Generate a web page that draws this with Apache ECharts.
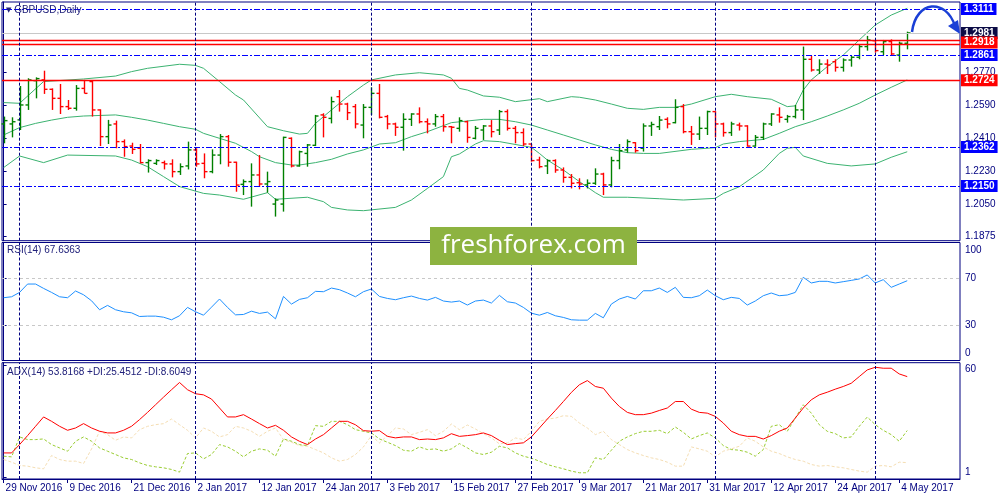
<!DOCTYPE html>
<html>
<head>
<meta charset="utf-8">
<title>GBPUSD,Daily</title>
<script src="https://cdn.jsdelivr.net/npm/echarts@6.0.0/dist/echarts.min.js"></script>
<style>
  html, body { margin: 0; padding: 0; background: #fff; }
  #main { width: 1000px; height: 500px; }
</style>
</head>
<body>
<div id="main"></div>
<script type="text/javascript">
// ---- price bars (daily, 29 Nov 2016 .. 5 May 2017), index = bar number
var open = [
  1.2487,1.2487,1.2509,1.2590,1.2722,1.2726,1.2675,1.2626,1.2581,1.2572,
  1.2680,1.2717,1.2563,1.2418,1.2487,1.2391,1.2367,1.2355,1.2277,1.2273,
  1.2277,1.2270,1.2228,1.2259,1.2346,1.2273,1.2228,1.2318,1.2418,1.2279,
  1.2159,1.2174,1.2210,1.2161,1.2052,1.2052,1.2409,1.2259,1.2327,1.2371,
  1.2536,1.2517,1.2635,1.2595,1.2581,1.2481,1.2577,1.2653,1.2527,1.2487,
  1.2469,1.2512,1.2541,1.2499,1.2487,1.2527,1.2472,1.2463,1.2499,1.2409,
  1.2454,1.2476,1.2454,1.2554,1.2463,1.2440,1.2378,1.2291,1.2259,1.2288,
  1.2237,1.2197,1.2168,1.2156,1.2165,1.2215,1.2156,1.2288,1.2346,1.2385,
  1.2355,1.2476,1.2472,1.2512,1.2494,1.2581,1.2445,1.2432,1.2463,1.2554,
  1.2487,1.2440,1.2481,1.2476,1.2367,1.2414,1.2487,1.2536,1.2512,1.2527,
  1.2563,1.2838,1.2780,1.2812,1.2825,1.2794,1.2834,1.2849,1.2907,1.2939,
  1.2879,1.2934,1.2861,1.2925
];
var high = [
  1.2527,1.2523,1.2693,1.2735,1.2740,1.2776,1.2680,1.2704,1.2617,1.2698,
  1.2726,1.2722,1.2566,1.2509,1.2505,1.2403,1.2385,1.2378,1.2295,1.2295,
  1.2288,1.2295,1.2273,1.2391,1.2355,1.2327,1.2349,1.2432,1.2427,1.2282,
  1.2186,1.2273,1.2318,1.2228,1.2083,1.2418,1.2414,1.2342,1.2378,1.2536,
  1.2545,1.2635,1.2671,1.2602,1.2595,1.2595,1.2686,1.2704,1.2536,1.2494,
  1.2545,1.2545,1.2577,1.2517,1.2541,1.2541,1.2476,1.2523,1.2505,1.2476,
  1.2481,1.2508,1.2563,1.2566,1.2476,1.2463,1.2378,1.2309,1.2295,1.2295,
  1.2251,1.2215,1.2192,1.2186,1.2246,1.2222,1.2309,1.2378,1.2403,1.2388,
  1.2490,1.2499,1.2530,1.2523,1.2621,1.2595,1.2476,1.2527,1.2559,1.2556,
  1.2494,1.2499,1.2494,1.2480,1.2427,1.2494,1.2545,1.2577,1.2536,1.2590,
  1.2907,1.2856,1.2838,1.2838,1.2838,1.2843,1.2856,1.2916,1.2965,1.2943,
  1.2943,1.2946,1.2934,1.2988
];
var low = [
  1.2382,1.2414,1.2454,1.2563,1.2626,1.2650,1.2563,1.2541,1.2563,1.2559,
  1.2653,1.2527,1.2367,1.2378,1.2355,1.2309,1.2324,1.2273,1.2223,1.2264,
  1.2240,1.2197,1.2210,1.2240,1.2255,1.2192,1.2219,1.2268,1.2255,1.2119,
  1.2101,1.2038,1.2146,1.2114,1.1984,1.2011,1.2251,1.2255,1.2255,1.2367,
  1.2414,1.2490,1.2554,1.2508,1.2463,1.2409,1.2536,1.2517,1.2458,1.2422,
  1.2342,1.2476,1.2490,1.2436,1.2472,1.2445,1.2382,1.2445,1.2385,1.2403,
  1.2400,1.2414,1.2427,1.2451,1.2382,1.2367,1.2282,1.2246,1.2215,1.2222,
  1.2168,1.2137,1.2132,1.2137,1.2156,1.2101,1.2143,1.2241,1.2331,1.2331,
  1.2337,1.2422,1.2454,1.2463,1.2490,1.2436,1.2373,1.2400,1.2427,1.2414,
  1.2418,1.2422,1.2451,1.2364,1.2364,1.2400,1.2476,1.2494,1.2494,1.2517,
  1.2508,1.2771,1.2758,1.2758,1.2771,1.2771,1.2798,1.2838,1.2885,1.2874,
  1.2861,1.2856,1.2825,1.2892
];
var close = [
  1.2505,1.2499,1.2590,1.2726,1.2733,1.2675,1.2626,1.2581,1.2572,1.2680,
  1.2653,1.2563,1.2418,1.2481,1.2391,1.2364,1.2349,1.2277,1.2288,1.2288,
  1.2270,1.2228,1.2255,1.2346,1.2270,1.2228,1.2318,1.2418,1.2279,1.2155,
  1.2174,1.2210,1.2161,1.2174,1.2074,1.2414,1.2259,1.2336,1.2373,1.2530,
  1.2523,1.2608,1.2595,1.2548,1.2487,1.2577,1.2653,1.2523,1.2487,1.2469,
  1.2512,1.2541,1.2499,1.2487,1.2527,1.2472,1.2469,1.2505,1.2414,1.2463,
  1.2476,1.2445,1.2554,1.2463,1.2440,1.2378,1.2288,1.2255,1.2288,1.2237,
  1.2197,1.2165,1.2161,1.2165,1.2215,1.2156,1.2288,1.2342,1.2391,1.2342,
  1.2476,1.2484,1.2508,1.2487,1.2577,1.2445,1.2432,1.2463,1.2554,1.2487,
  1.2440,1.2487,1.2476,1.2367,1.2414,1.2487,1.2541,1.2523,1.2527,1.2563,
  1.2838,1.2780,1.2812,1.2807,1.2794,1.2834,1.2849,1.2907,1.2943,1.2885,
  1.2934,1.2867,1.2925,1.2981
];

// ---- Bollinger bands (20,2), vertices: [bar, price]
var bbUpper = [
  [0,1.2603],[2,1.2599],[5,1.2717],[10,1.2731],[14,1.2747],[16,1.2771],[18,1.2789],
  [22,1.2811],[24,1.2805],[25,1.2789],[27,1.2717],[29,1.2644],[30,1.2617],[33,1.2472],
  [35,1.2450],[37,1.2432],[38,1.2436],[39,1.2490],[41,1.2563],[43,1.2635],[45,1.2698],
  [46,1.2726],[49,1.2753],[52,1.2765],[55,1.2753],[56,1.2735],[57,1.2680],[58,1.2671],
  [60,1.2639],[62,1.2632],[64,1.2608],[67,1.2624],[68,1.2608],[71,1.2635],[72,1.2632],
  [74,1.2617],[76,1.2595],[78,1.2572],[80,1.2566],[82,1.2577],[84,1.2577],[86,1.2595],
  [89,1.2635],[91,1.2648],[93,1.2635],[96,1.2621],[98,1.2581],[99,1.2585],[100,1.2671],
  [101,1.2726],[103,1.2798],[105,1.2861],[107,1.2943],[109,1.3024],[111,1.3078],[113,1.3115]
];
var bbMid = [
  [0,1.2427],[2,1.2467],[4,1.2490],[6,1.2508],[8,1.2523],[10,1.2530],[14,1.2536],
  [16,1.2523],[18,1.2508],[20,1.2490],[22,1.2472],[24,1.2458],[25,1.2436],[27,1.2409],
  [29,1.2382],[31,1.2337],[32,1.2309],[34,1.2277],[36,1.2264],[37,1.2264],[39,1.2277],
  [41,1.2295],[43,1.2324],[45,1.2346],[47,1.2378],[49,1.2385],[51,1.2418],[53,1.2445],
  [56,1.2494],[60,1.2512],[62,1.2512],[64,1.2499],[66,1.2481],[68,1.2454],[70,1.2427],
  [72,1.2400],[74,1.2373],[76,1.2349],[78,1.2331],[80,1.2327],[82,1.2327],[86,1.2349],
  [89,1.2358],[90,1.2378],[92,1.2391],[95,1.2403],[97,1.2436],[99,1.2472],[101,1.2499],
  [103,1.2530],[105,1.2563],[107,1.2599],[109,1.2644],[111,1.2686],[113,1.2726]
];
var bbLower = [
  [0,1.2250],[2,1.2313],[5,1.2277],[8,1.2318],[14,1.2313],[16,1.2291],[18,1.2255],
  [20,1.2201],[22,1.2147],[25,1.2110],[27,1.2101],[30,1.2078],[33,1.2114],[34,1.2078],
  [38,1.2089],[40,1.2065],[41,1.2034],[43,1.2020],[45,1.2016],[49,1.2034],[51,1.2074],
  [53,1.2137],[55,1.2201],[56,1.2309],[57,1.2324],[59,1.2378],[60,1.2396],[62,1.2391],
  [66,1.2360],[67,1.2327],[68,1.2291],[70,1.2237],[72,1.2174],[74,1.2114],[75,1.2089],
  [78,1.2089],[82,1.2081],[85,1.2074],[89,1.2083],[90,1.2110],[92,1.2146],[95,1.2237],
  [97,1.2327],[98,1.2355],[99,1.2360],[100,1.2313],[103,1.2273],[106,1.2259],[109,1.2270],
  [111,1.2306],[113,1.2336]
];

// ---- RSI(14)
var rsi = [
  53.2,54.0,57.7,64.8,64.8,61.1,57.7,54.0,53.2,58.9,
  55.7,50.6,43.0,46.7,43.0,41.3,40.4,37.3,37.6,37.6,
  36.7,34.5,37.9,45.0,41.3,38.4,45.2,52.1,45.0,38.7,
  39.0,41.8,39.9,41.0,35.3,54.3,47.8,51.8,53.2,58.6,
  58.3,61.4,60.0,57.2,54.0,58.3,60.6,54.3,52.6,51.5,
  53.2,54.6,52.6,51.2,53.5,50.4,49.5,50.4,47.0,50.4,
  51.2,48.7,55.2,49.8,48.7,45.0,40.1,38.4,40.7,37.9,
  36.5,34.5,34.2,34.2,39.9,36.2,47.8,52.1,54.3,52.1,
  59.1,59.1,61.4,57.7,62.0,53.5,53.2,54.9,59.7,54.9,
  51.5,53.5,52.6,47.0,50.4,54.9,57.2,54.9,55.5,57.7,
  70.5,65.7,67.1,67.1,65.7,66.8,67.9,69.1,72.5,65.7,
  68.5,62.0,64.8,67.6
];

// ---- ADX(14), +DI, -DI
var adx = [
  13.7,13.7,18.1,22.8,27.7,32.6,30.3,27.7,25.6,26.8,
  29.1,26.8,25.1,24.2,24.2,25.6,27.7,31.2,35.0,39.0,
  43.0,46.9,50.7,46.9,44.8,44.2,42.0,37.3,32.6,32.6,
  33.8,31.5,29.1,26.8,28.2,25.6,22.1,19.8,18.1,21.0,
  23.3,26.8,30.3,30.3,28.5,25.4,25.1,25.4,22.4,21.6,
  22.1,22.1,20.7,21.0,20.7,21.6,23.8,22.4,22.8,23.3,
  24.2,22.8,20.3,18.1,18.6,19.0,22.1,26.8,31.5,36.0,
  40.7,45.5,49.5,51.7,48.6,47.7,42.5,38.1,35.0,33.8,
  33.8,34.6,36.0,37.3,40.7,40.7,36.7,35.0,34.6,32.9,
  29.4,25.1,23.3,22.4,22.4,21.0,22.8,25.1,26.8,32.0,
  37.3,41.6,44.2,45.6,47.2,48.6,50.3,53.8,57.3,58.7,
  58.2,58.2,55.2,53.8
];
var plusDI = [
  11.98,11.63,22.09,20.70,20.70,21.05,18.08,16.34,14.60,19.83,
  22.09,19.83,16.34,14.60,12.85,11.11,10.24,8.50,7.10,6.40,
  5.88,5.01,3.61,13.38,13.72,10.59,12.85,18.08,16.86,14.60,
  11.63,14.60,15.82,15.12,11.98,21.05,19.83,18.08,17.56,28.02,
  27.67,30.29,30.29,28.54,25.93,25.06,24.19,21.05,19.30,17.56,
  15.12,14.60,16.86,15.47,15.82,14.60,15.82,18.61,16.34,13.72,
  12.85,14.07,17.20,16.34,13.72,11.98,10.94,9.37,7.62,6.40,
  5.36,4.14,3.27,3.27,11.11,10.24,15.12,19.83,22.09,23.84,
  25.06,25.06,25.58,23.84,27.32,24.53,21.05,22.79,24.19,21.57,
  17.56,15.47,15.12,14.07,11.98,15.47,27.67,28.54,25.06,32.00,
  39.00,34.65,28.54,25.06,23.84,21.57,22.09,27.67,32.55,28.54,
  25.58,23.31,19.83,25.45
];
var minusDI = [
  10.24,8.84,7.10,6.75,5.88,5.36,12.33,10.24,9.37,9.37,
  8.15,15.82,25.06,23.31,20.35,22.09,21.57,25.93,27.67,28.54,
  29.07,31.51,28.54,25.58,21.57,26.80,25.06,22.09,23.31,27.67,
  26.80,25.06,22.44,25.06,26.80,20.70,19.30,17.56,17.21,15.47,
  13.72,11.11,9.37,10.24,12.85,16.86,22.79,18.96,22.79,26.80,
  26.28,23.31,24.53,25.93,22.79,25.06,28.89,25.93,28.37,26.28,
  23.84,21.57,18.50,18.96,21.57,20.70,25.06,30.29,31.51,32.00,
  33.25,32.90,29.42,26.80,23.31,25.06,20.70,18.08,15.47,13.72,
  12.33,11.11,10.24,8.84,6.75,6.75,16.86,15.82,14.60,11.63,
  14.60,15.82,17.21,21.57,19.83,16.86,14.60,13.38,11.63,10.24,
  9.37,7.62,6.75,7.10,6.40,5.88,5.01,4.14,3.61,6.75,
  7.10,6.40,8.84,8.60
];

// ---- horizontal levels drawn on the price pane
var blueLevels = [1.3111, 1.2861, 1.2362, 1.2150];
var redLevels = [1.2943, 1.2918, 1.2724];
var bidPrice = 1.2981;

// ---- axes
var priceTicks = [1.1875, 1.2050, 1.2230, 1.2410, 1.2590, 1.2770];
var rsiTicks = [0, 30, 70, 100];
var adxTicks = [1, 60];
var tickBars = [0, 8, 16, 24, 32, 40, 48, 56, 64, 72, 80, 88, 96, 104, 112];
var tickLabels = ['29 Nov 2016', '9 Dec 2016', '21 Dec 2016', '2 Jan 2017', '12 Jan 2017',
  '24 Jan 2017', '3 Feb 2017', '15 Feb 2017', '27 Feb 2017', '9 Mar 2017', '21 Mar 2017',
  '31 Mar 2017', '12 Apr 2017', '24 Apr 2017', '4 May 2017'];
var monthStarts = [2, 24, 46, 66, 89, 109];

var NAVY = '#000080';
var FONT = 'Liberation Sans';

function renderBar(params, api) {
  var x = api.value(0);
  var o = api.coord([x, api.value(1)]);
  var h = api.coord([x, api.value(2)]);
  var l = api.coord([x, api.value(3)]);
  var c = api.coord([x, api.value(4)]);
  var col = api.value(4) >= api.value(1) ? '#008000' : '#ff0000';
  var st = { stroke: col, lineWidth: 1.4 };
  var px = Math.round(h[0]) + 0.5;
  return {
    type: 'group',
    children: [
      { type: 'line', shape: { x1: px, y1: h[1], x2: px, y2: l[1] }, style: st },
      { type: 'line', shape: { x1: px - 3, y1: o[1], x2: px, y2: o[1] }, style: st },
      { type: 'line', shape: { x1: px, y1: c[1], x2: px + 3, y2: c[1] }, style: st }
    ]
  };
}

function monthLines() {
  return monthStarts.map(function (b) {
    return { xAxis: b, lineStyle: { color: NAVY, type: [3, 2], width: 1 } };
  });
}

var boxLabel = {
  show: true, position: 'end', distance: 1, formatter: '{b}', color: '#fff',
  fontSize: 10, fontFamily: FONT, fontWeight: 'bold', padding: [1, 3, 0, 3], lineHeight: 11
};
function box(bg, extra) {
  return Object.assign({}, boxLabel, { backgroundColor: bg }, extra || {});
}

var levelData = [];
blueLevels.forEach(function (v) {
  levelData.push({ yAxis: v, name: v.toFixed(4),
    lineStyle: { color: '#0000ff', type: [6, 2, 2, 2], width: 1 }, label: box('#0000ff') });
});
levelData.push({ yAxis: bidPrice, name: bidPrice.toFixed(4),
  lineStyle: { color: '#c8c8c8', type: 'solid', width: 1 }, label: box('#0b0b45') });
redLevels.forEach(function (v, i) {
  levelData.push({ yAxis: v, name: v.toFixed(4),
    lineStyle: { color: '#ff0000', type: 'solid', width: 1.3 },
    label: i === 0 ? { show: false } : box('#ff0000', { offset: [0, i === 1 ? -2 : 0] }) });
});

var rsiMarks = [30, 70].map(function (v) {
  return { yAxis: v, lineStyle: { color: '#c8c8c8', type: [3, 3], width: 1 } };
}).concat(monthLines());

var ohlc = open.map(function (o, i) { return [i, o, high[i], low[i], close[i]]; });
function indexed(arr) { return arr.map(function (v, i) { return [i, v]; }); }

var xCommon = { type: 'value', min: -0.2, max: 119.6, splitLine: { show: false } };
var tickFont = { color: NAVY, fontSize: 10, fontFamily: FONT };

function yAxisRight(grid, min, max, ticks, formatter, rich) {
  return {
    type: 'value', gridIndex: grid, position: 'right', min: min, max: max,
    splitLine: { show: false },
    axisLine: { show: true, lineStyle: { color: NAVY, width: 1 } },
    axisTick: { show: true, length: 3, customValues: ticks, lineStyle: { color: NAVY } },
    axisLabel: Object.assign({ margin: 5, customValues: ticks, formatter: formatter, rich: rich || {} }, tickFont)
  };
}

var mk = { silent: true, symbol: ['none', 'none'], animation: false, precision: 4, label: { show: false } };
function markLine(data, extra) { return Object.assign({}, mk, { data: data }, extra || {}); }

var option = {
  animation: false,
  backgroundColor: '#ffffff',
  title: [
    { text: '{t|▼} GBPUSD,Daily', left: 6, top: 5, padding: 0,
      textStyle: { fontSize: 10, fontWeight: 'normal', color: '#20207a', fontFamily: FONT,
        rich: { t: { fontSize: 7, color: '#20207a', fontFamily: 'DejaVu Sans' } } } },
    { text: 'RSI(14) 67.6363', left: 7, top: 245.5, padding: 0,
      textStyle: { fontSize: 10, fontWeight: 'normal', color: '#20207a', fontFamily: FONT } },
    { text: 'ADX(14) 53.8168 +DI:25.4512 -DI:8.6049', left: 7, top: 367, padding: 0,
      textStyle: { fontSize: 10, fontWeight: 'normal', color: '#20207a', fontFamily: FONT } }
  ],
  grid: [
    { left: 2, right: 40, top: 2, height: 238.7, show: true, borderColor: NAVY, borderWidth: 1 },
    { left: 2, right: 40, top: 242.5, height: 118, show: true, borderColor: NAVY, borderWidth: 1 },
    { left: 2, right: 40, top: 362.7, height: 116.3, show: true, borderColor: NAVY, borderWidth: 1 }
  ],
  xAxis: [
    Object.assign({ gridIndex: 0, show: false }, xCommon),
    Object.assign({ gridIndex: 1, show: false }, xCommon),
    Object.assign({
      gridIndex: 2,
      axisLine: { show: true, lineStyle: { color: NAVY, width: 1 } },
      axisTick: { show: true, length: 4, customValues: tickBars, lineStyle: { color: NAVY } },
      axisLabel: Object.assign({
        customValues: tickBars, align: 'left', margin: 4, padding: [0, 0, 0, 2],
        formatter: function (v) { return tickLabels[tickBars.indexOf(Math.round(v))] || ''; }
      }, tickFont)
    }, xCommon)
  ],
  yAxis: [
    yAxisRight(0, 1.18531, 1.31490, priceTicks, function (v) { return v.toFixed(4); }),
    yAxisRight(1, 0, 100, rsiTicks, function (v) {
      if (v === 100) return '{dn|100}';
      if (v === 0) return '{up|0}';
      return String(v);
    }, {
      dn: Object.assign({ padding: [15, 0, 0, 0] }, tickFont),
      up: Object.assign({ padding: [0, 0, 14, 0] }, tickFont)
    }),
    yAxisRight(2, 0, 61.1, adxTicks, function (v) {
      if (v === 60) return '{dn|60}';
      return '{up|' + v + '}';
    }, {
      dn: Object.assign({ padding: [9, 0, 0, 0] }, tickFont),
      up: Object.assign({ padding: [0, 0, 9, 0] }, tickFont)
    })
  ],
  series: [
    {
      name: 'levels', type: 'line', xAxisIndex: 0, yAxisIndex: 0, data: bbMid,
      showSymbol: false, silent: true, z: 1,
      lineStyle: { color: '#3cb371', width: 1 },
      markLine: markLine(levelData)
    },
    {
      name: 'bbUpper', type: 'line', xAxisIndex: 0, yAxisIndex: 0, data: bbUpper,
      showSymbol: false, silent: true, z: 1,
      lineStyle: { color: '#3cb371', width: 1 },
      markLine: markLine(monthLines())
    },
    {
      name: 'bbLower', type: 'line', xAxisIndex: 0, yAxisIndex: 0, data: bbLower,
      showSymbol: false, silent: true, z: 1,
      lineStyle: { color: '#3cb371', width: 1 }
    },
    {
      name: 'GBPUSD', type: 'custom', xAxisIndex: 0, yAxisIndex: 0, z: 3,
      renderItem: renderBar, data: ohlc, encode: { x: 0, y: [1, 2, 3, 4] }
    },
    {
      name: 'RSI', type: 'line', xAxisIndex: 1, yAxisIndex: 1, data: indexed(rsi),
      showSymbol: false, silent: true,
      lineStyle: { color: '#1e90ff', width: 1 },
      markLine: markLine(rsiMarks)
    },
    {
      name: '-DI', type: 'line', xAxisIndex: 2, yAxisIndex: 2, data: indexed(minusDI),
      showSymbol: false, silent: true,
      lineStyle: { color: '#f5deb3', width: 1, type: [3, 2] },
      markLine: markLine(monthLines())
    },
    {
      name: '+DI', type: 'line', xAxisIndex: 2, yAxisIndex: 2, data: indexed(plusDI),
      showSymbol: false, silent: true,
      lineStyle: { color: '#9acd32', width: 1, type: [3, 2] }
    },
    {
      name: 'ADX', type: 'line', xAxisIndex: 2, yAxisIndex: 2, data: indexed(adx),
      showSymbol: false, silent: true,
      lineStyle: { color: '#ff0000', width: 1 }
    }
  ],
  graphic: [
    { type: 'rect', shape: { x: 430, y: 227, width: 207, height: 38 },
      style: { fill: '#8db340' }, z: 100 },
    { type: 'text', x: 533.5, y: 246, z: 101,
      style: { text: 'freshforex.com', fill: '#ffffff', fontSize: 26, fontFamily: 'Open Sans',
        textAlign: 'center', textVerticalAlign: 'middle', align: 'center', verticalAlign: 'middle' } },
    { type: 'bezierCurve', z: 50,
      shape: { x1: 912, y1: 32, x2: 955, y2: 26, cpx1: 916, cpy1: 0, cpx2: 946, cpy2: -2 },
      style: { stroke: '#1a3fd6', lineWidth: 2.5, fill: null } },
    { type: 'polygon', z: 50,
      shape: { points: [[960, 34], [948, 26], [958, 20]] },
      style: { fill: '#1a3fd6' } }
  ]
};

var myChart = echarts.init(document.getElementById('main'));
myChart.setOption(option);
</script>
</body>
</html>
